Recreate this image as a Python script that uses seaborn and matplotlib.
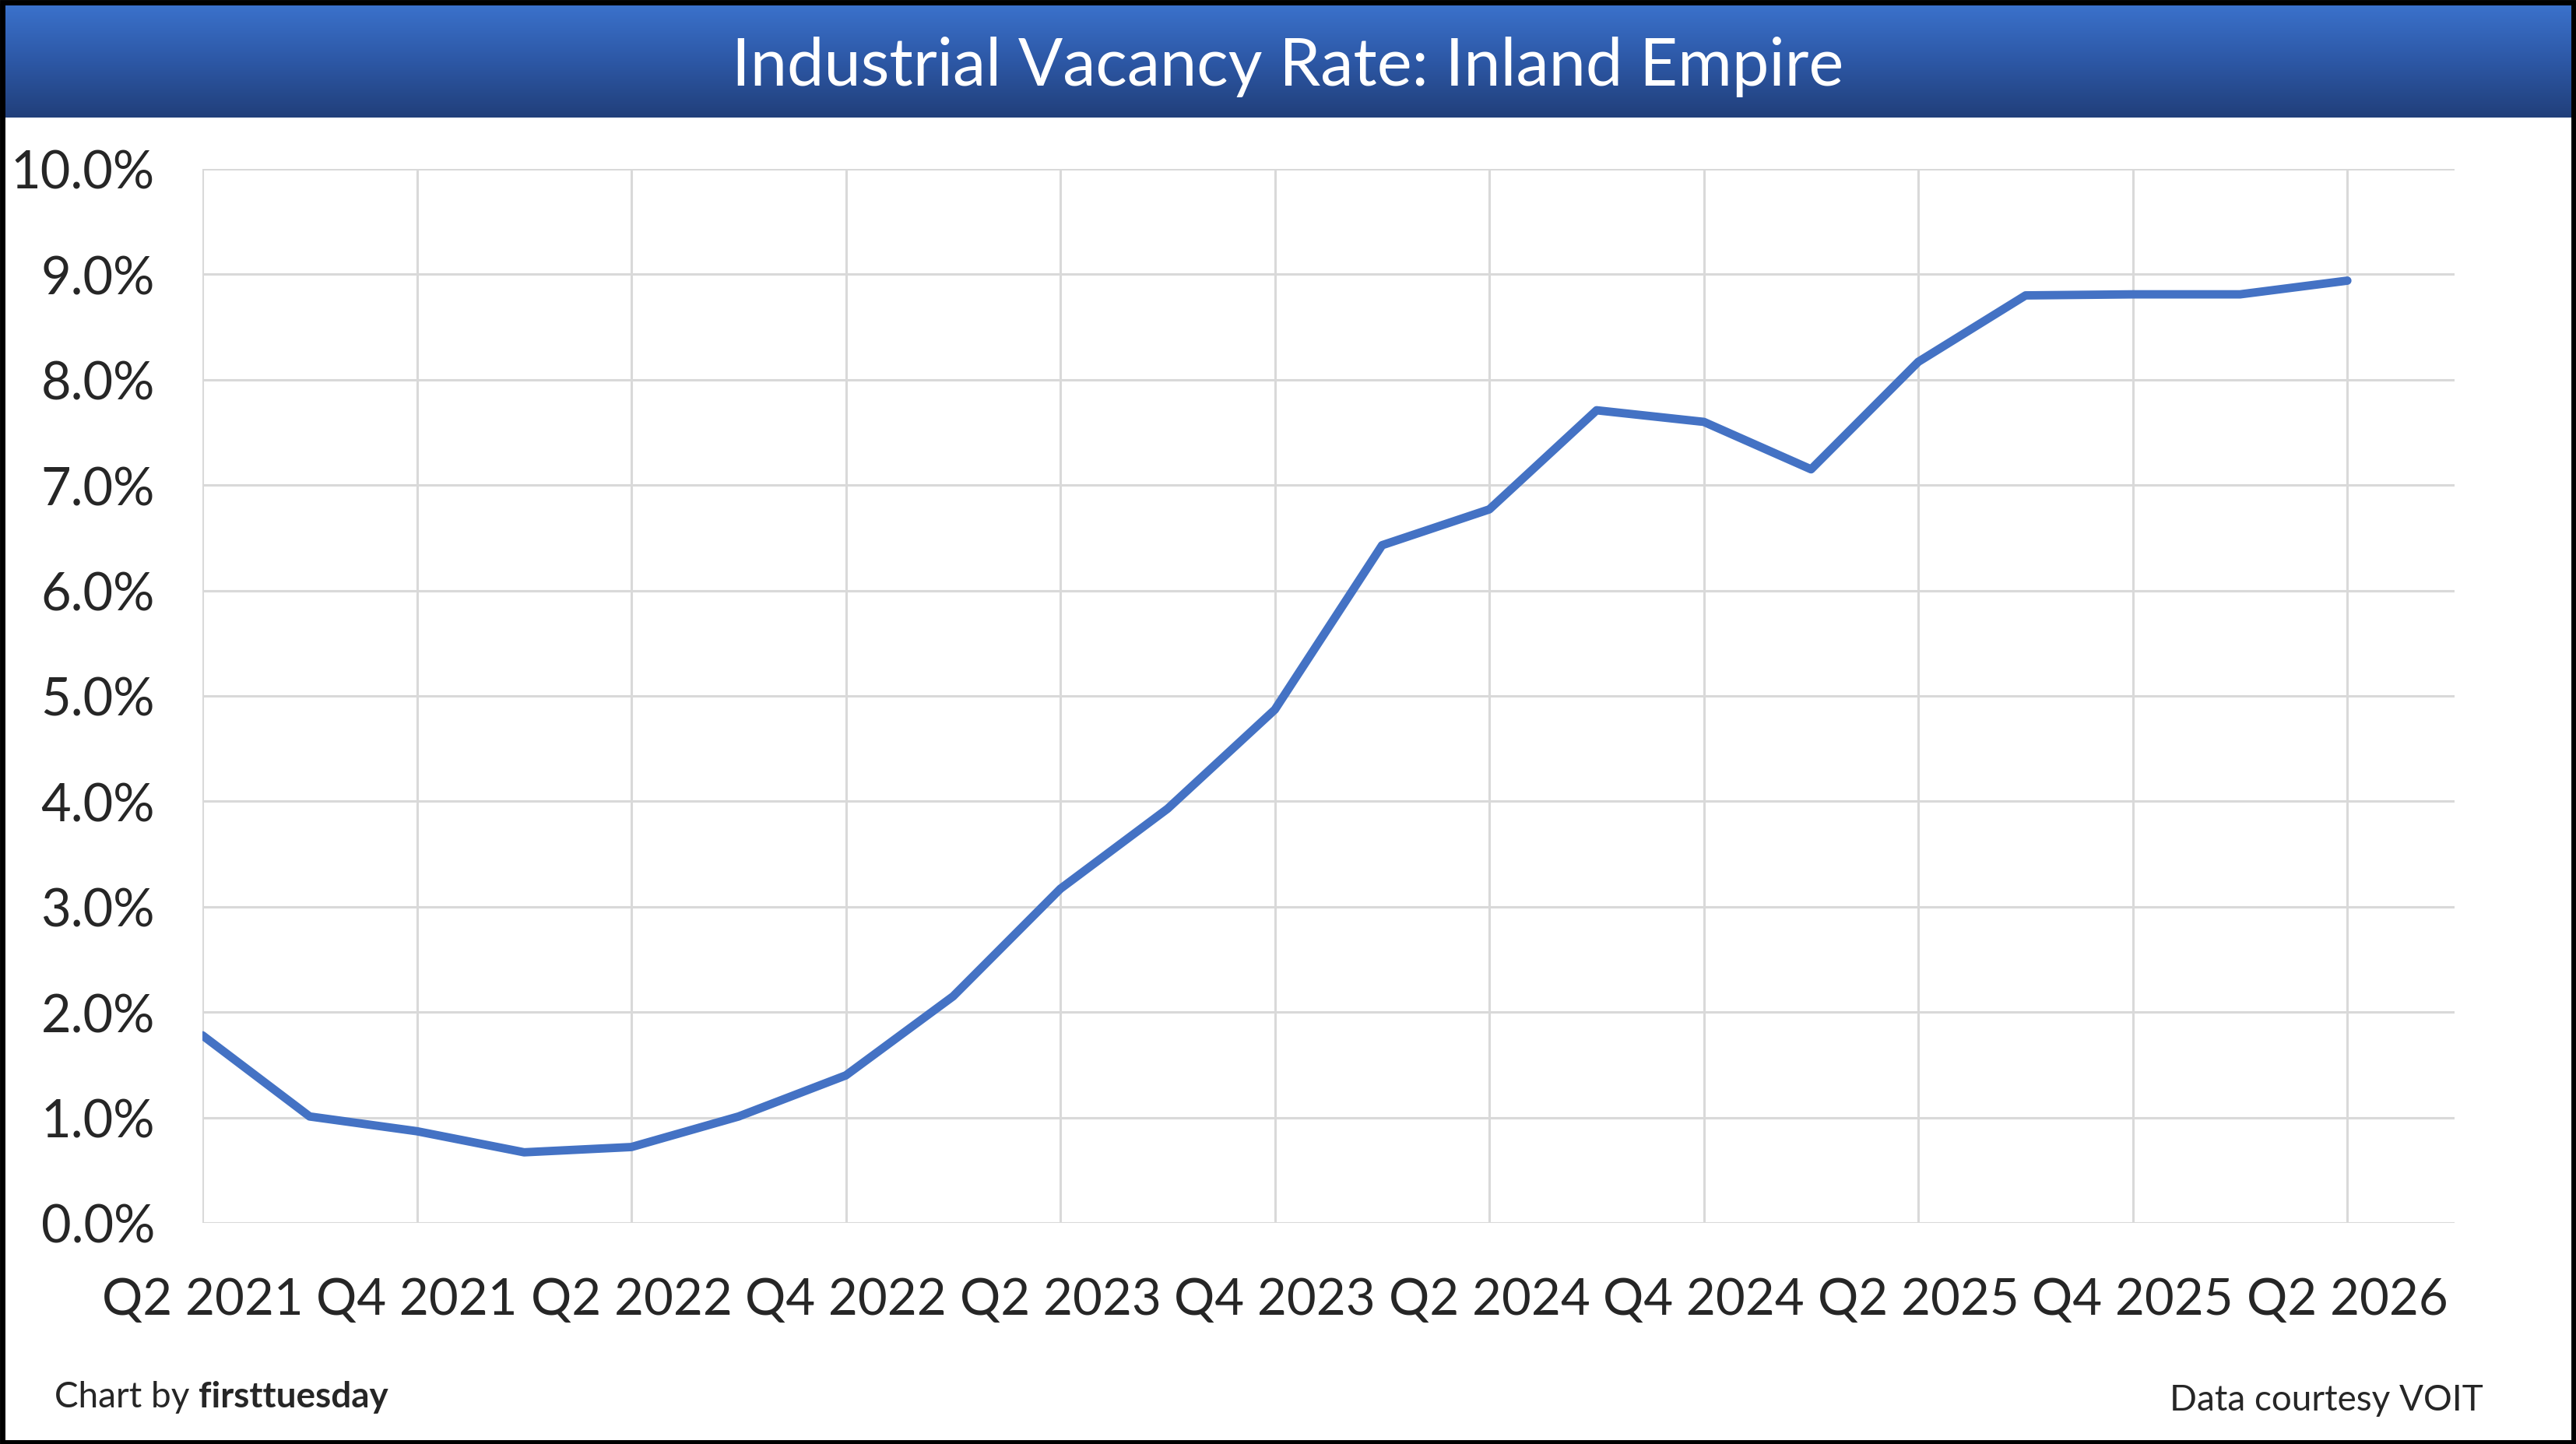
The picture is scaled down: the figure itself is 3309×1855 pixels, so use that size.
import numpy as np
import pandas as pd
import matplotlib
matplotlib.use("Agg")
import matplotlib.pyplot as plt
import seaborn as sns
from matplotlib.patches import Rectangle
from matplotlib.ticker import FuncFormatter

# Quarterly vacancy rate (%)
quarters = ["Q2 2021", "Q3 2021", "Q4 2021", "Q1 2022", "Q2 2022", "Q3 2022", "Q4 2022",
            "Q1 2023", "Q2 2023", "Q3 2023", "Q4 2023", "Q1 2024", "Q2 2024", "Q3 2024",
            "Q4 2024", "Q1 2025", "Q2 2025", "Q3 2025", "Q4 2025", "Q1 2026", "Q2 2026"]
vacancy = [1.78, 1.01, 0.87, 0.67, 0.72, 1.01, 1.40,
           2.15, 3.17, 3.93, 4.87, 6.43, 6.77, 7.71,
           7.60, 7.15, 8.17, 8.80, 8.81, 8.81, 8.94]

df = pd.DataFrame({"Quarter": quarters, "Vacancy": vacancy})
df["pos"] = range(len(df))

sns.set_theme(style="whitegrid")
plt.rcParams["font.family"] = ["Lato", "DejaVu Sans"]

W, H, DPI = 3309, 1856, 200
fig = plt.figure(figsize=(W / DPI, H / DPI), dpi=DPI)

# Plot area
left, right, top, bottom = 260, 3153, 218, 1572
ax = fig.add_axes([left / W, 1 - bottom / H, (right - left) / W, (bottom - top) / H])
sns.lineplot(data=df, x="pos", y="Vacancy", ax=ax, color="#4472C4", linewidth=3.9)

ax.set_xlim(0, len(quarters))
ax.set_ylim(0, 10)
ax.set_yticks(np.arange(0, 11, 1))
ax.yaxis.set_major_formatter(FuncFormatter(lambda v, p: f"{v:.1f}%"))
ax.set_xticks(df["pos"][::2])
ax.set_xticklabels(df["Quarter"][::2])
ax.set_xlabel("")
ax.set_ylabel("")
ax.grid(True, color="#d9d9d9", linewidth=1.1)
for s in ax.spines.values():
    s.set_visible(False)
ax.tick_params(axis="x", length=6, color="#d9d9d9", width=1.1, pad=19, labelsize=23.5)
ax.tick_params(axis="y", length=0, pad=22, labelsize=24)

# Title bar with gradient
bar = fig.add_axes([0, 1 - 152 / H, 1, 146 / H])
grad = np.linspace(0, 1, 256).reshape(-1, 1)
cmap = matplotlib.colors.LinearSegmentedColormap.from_list("bar", ["#3b72cc", "#2d58a6", "#213f7a"])
bar.imshow(grad, aspect="auto", cmap=cmap, extent=[0, 1, 0, 1])
bar.set_axis_off()
bar.text(0.5, 0.45, "Industrial Vacancy Rate: Inland Empire", color="white",
         ha="center", va="center", fontsize=30.5, transform=bar.transAxes)

# Footer notes
t1 = fig.text(70 / W, 1 - 1808 / H, "Chart by ", fontsize=16.5, ha="left", va="baseline")
fig.canvas.draw()
x_end = t1.get_window_extent().x1 / W
fig.text(x_end, 1 - 1808 / H, "firsttuesday", fontsize=16.5, fontweight="bold", ha="left", va="baseline")
fig.text(3190 / W, 1 - 1812 / H, "Data courtesy VOIT", fontsize=16.5, ha="right", va="baseline")

# Outer border
fig.patches.append(Rectangle((0.001, 0.001), 0.998, 0.997, transform=fig.transFigure,
                             fill=False, edgecolor="black", linewidth=2.5))

fig.savefig("out.png", dpi=DPI)
